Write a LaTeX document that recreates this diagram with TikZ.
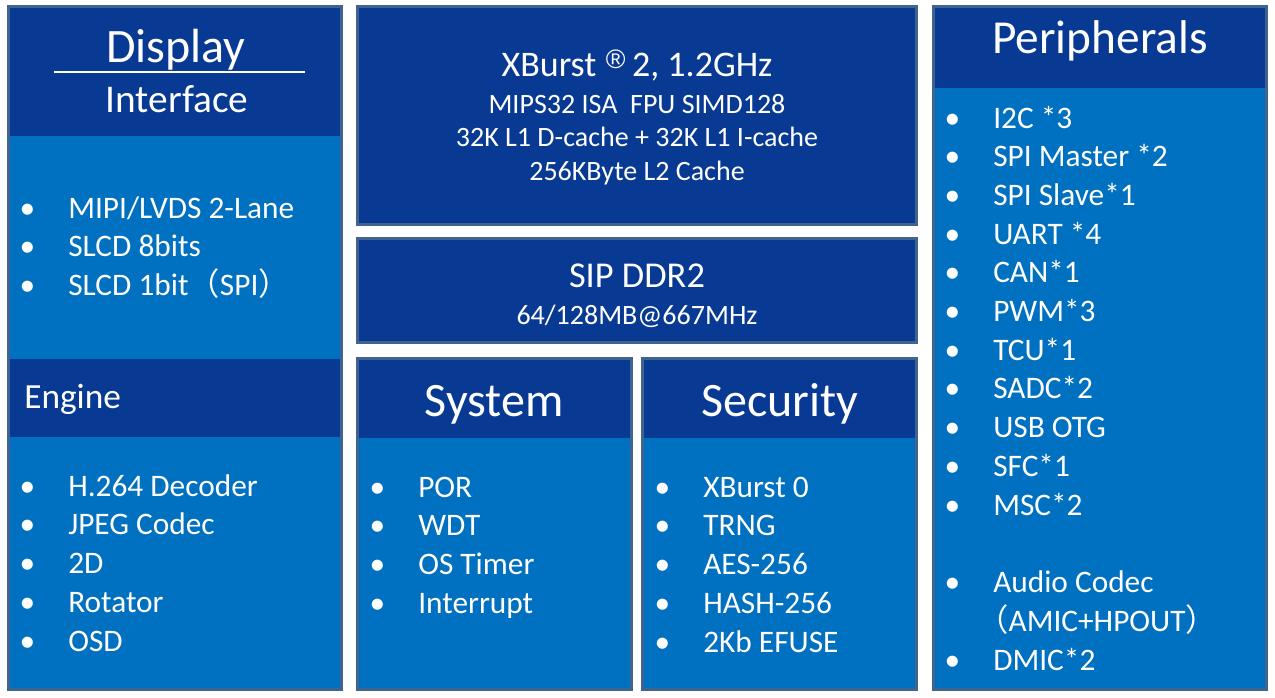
\documentclass[tikz,border=0pt]{standalone}
\usepackage{fontspec}
\setmainfont{Carlito}
\newfontfamily\cjk{Noto Sans CJK SC}
\newfontfamily\symf{Liberation Sans}
\usetikzlibrary{positioning,fit}
\definecolor{socDark}{HTML}{083A93}
\definecolor{socLight}{HTML}{0070C0}
\definecolor{socEdge}{HTML}{41648F}
\newcommand{\itm}[1]{\makebox[33pt][l]{\hspace{-3.5pt}\textbullet}#1}
\newcommand{\fw}[1]{{\cjk #1}}
\tikzset{
    panel/.style={draw=socEdge, line width=2.25pt, fill=socLight, inner sep=0pt},
    panelDark/.style={panel, fill=socDark},
    head/.style={fill=socDark, inner sep=0pt},
    % texts
    title/.style={text=white, inner sep=0pt, anchor=base, font=\fontsize{36}{42}\selectfont},
    sub/.style={text=white, inner sep=0pt, anchor=base, font=\fontsize{21}{25}\selectfont},
    item/.style={text=white, inner sep=0pt, anchor=base west, font=\fontsize{23.5}{28}\selectfont}
}
\begin{document}
\begin{tikzpicture}[x=0.75pt, y=-0.75pt]
\useasboundingbox[fill=white] (0,0) rectangle (1275,697);

% display / engine column
\node[panel, fit={(8.5,6.5) (341.5,689)}] (disp) {};
\node[head, fit={(10,8) (340,136)}] (disphead) {};
\node[head, fit={(10,359) (340,437)}] (enghead) {};
\node[title] (dispt) at (176,62) {Display};
\draw[white, line width=1.5pt] (54,72) -- (305,72);
\node[title, font=\fontsize{29.5}{34}\selectfont] (dispsub) at (177,112) {Interface};
\node[title, anchor=base west, font=\fontsize{26.5}{30}\selectfont] (engt) at (24,408) {Engine};
\foreach \t [count=\i] in {MIPI/LVDS 2-Lane, SLCD 8bits, SLCD 1bit\fw{（}SPI\fw{）}}
    \node[item] (disp\i) at (24,{218+38.7*(\i-1)}) {\itm{\t}};
\foreach \t [count=\i] in {H.264 Decoder, JPEG Codec, 2D, Rotator, OSD}
    \node[item] (eng\i) at (24,{496+38.8*(\i-1)}) {\itm{\t}};

% cpu and memory
\node[panelDark, fit={(357.5,6.5) (916.5,224)}] (cpu) {};
\node[title, font=\fontsize{27}{32}\selectfont] (cput) at (637,76)
    {XBurst\hspace{7pt}\raisebox{6pt}{\symf\fontsize{20}{20}\selectfont ®}\hspace{5pt}2, 1.2GHz};
\node[sub] (cpu1) at (637,113) {MIPS32 ISA\ \ FPU SIMD128};
\node[sub] (cpu2) at (637,146) {32K L1 D-cache + 32K L1 I-cache};
\node[sub] (cpu3) at (637,180) {256KByte L2 Cache};

\node[panelDark, fit={(357.5,238) (916.5,342)}] (ddr) {};
\node[title, font=\fontsize{27.3}{32}\selectfont] (ddrt) at (637,287) {SIP DDR2};
\node[sub] (ddr1) at (637,324) {64/128MB@667MHz};

% system
\node[panel, fit={(357.5,358.5) (631.5,689)}] (sys) {};
\node[head, fit={(359,360) (630,438)}] (syshead) {};
\node[title] (syst) at (494,416) {System};
\foreach \t [count=\i] in {POR, WDT, OS Timer, Interrupt}
    \node[item] (sys\i) at (374,{497+38.8*(\i-1)}) {\itm{\t}};

% security
\node[panel, fit={(642.5,358.5) (916.5,689)}] (sec) {};
\node[head, fit={(644,360) (915,438)}] (sechead) {};
\node[title] (sect) at (780,416) {Security};
\foreach \t [count=\i] in {XBurst 0, TRNG, AES-256, HASH-256, 2Kb EFUSE}
    \node[item] (sec\i) at (659,{497+38.8*(\i-1)}) {\itm{\t}};

% peripherals
\node[panel, fit={(933.5,6.5) (1266.5,689)}] (peri) {};
\node[head, fit={(935,8) (1265,88)}] (perihead) {};
\node[title, font=\fontsize{35.5}{42}\selectfont] (perit) at (1100,53) {Peripherals};
\foreach \t [count=\i] in {I2C *3, SPI Master *2, SPI Slave*1, UART *4, CAN*1, PWM*3,
        TCU*1, SADC*2, USB OTG, SFC*1, MSC*2}
    \node[item] (peri\i) at (949,{128+38.7*(\i-1)}) {\itm{\t}};
\node[item] (audio) at (949,592) {\itm{Audio Codec}};
\node[item] (audio2) at (977,631) {\fw{（}AMIC+HPOUT\fw{）}};
\node[item] (dmic) at (949,670) {\itm{DMIC*2}};
\end{tikzpicture}
\end{document}
